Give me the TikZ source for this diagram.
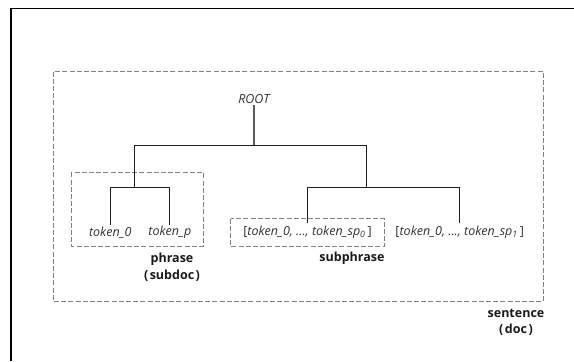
\documentclass[tikz,border=0pt]{standalone}
\usepackage{fontspec}
\setmainfont{Open Sans}
\definecolor{treeline}{HTML}{1E1E1E}
\definecolor{rootline}{HTML}{5A5A5A}
\definecolor{dashgray}{HTML}{808080}
\definecolor{txtgray}{HTML}{333333}
\definecolor{lblblack}{HTML}{1A1A1A}
\tikzset{
  tok/.style={font=\fontsize{12.5bp}{14bp}\selectfont\itshape, text=txtgray, inner sep=1.5bp},
  lbl/.style={font=\fontsize{12.5bp}{16.5bp}\selectfont\bfseries, text=lblblack, align=center, inner sep=0pt},
  tree/.style={draw=treeline, line width=1.1bp},
  dbox/.style={draw=dashgray, line width=1bp, dash pattern=on 5bp off 2.2bp},
  frame/.style={draw=black, line width=1.4bp}
}
\newcommand{\ubr}[1]{{\upshape #1}}
\begin{document}
\begin{tikzpicture}[x=1bp,y=-1bp]
\useasboundingbox (0,0) rectangle (574,361);
% outer frame (cropped)
\draw[frame] (11,361) -- (11,8.5) -- (574,8.5);
% dashed boxes
\draw[dbox] (53.8,71.5) rectangle (543.2,301.7);
\draw[dbox] (71.4,172.3) rectangle (203.1,246.3);
\draw[dbox] (230.6,218.7) rectangle (384.3,246.7);
% nodes
\node[tok] (root) at (254,99) {ROOT};
\node[tok] (t0) at (110.3,232.3) {token\_0};
\node[tok] (tp) at (169.8,232.3) {token\_p};
\node[tok] (s0) at (307.5,232.3) {\ubr{[}token\_0, ..., token\_sp\textsubscript{0}\,\ubr{]}};
\node[tok] (s1) at (459.7,232.3) {\ubr{[}token\_0, ..., token\_sp\textsubscript{1}\,\ubr{]}};
\coordinate (j0) at (254,145.7);
\coordinate (pj) at (134.7,187.3);
\coordinate (sj) at (366.4,187.3);
\coordinate (t0top) at (110.3,224.5);
\coordinate (tptop) at (169.8,224.5);
\coordinate (s0top) at (307.5,223.3);
\coordinate (s1top) at (459.7,223.3);
% tree
\draw[draw=rootline, line width=1.1bp] (root.south) -- (j0);
\draw[tree] (pj) |- (j0) -| (sj);
\draw[tree] (t0top) |- (pj) -| (tptop);
\draw[tree] (s0top) |- (sj) -| (s1top);
% labels
\node[lbl] (phr) at (172,267) {phrase\\(\hspace{1.5bp}subdoc\hspace{1.5bp})};
\node[lbl] (subp) at (352,258.7) {subphrase};
\node[lbl] (sent) at (516,322.5) {sentence\\(\hspace{1.5bp}doc\hspace{1.5bp})};
\end{tikzpicture}
\end{document}
